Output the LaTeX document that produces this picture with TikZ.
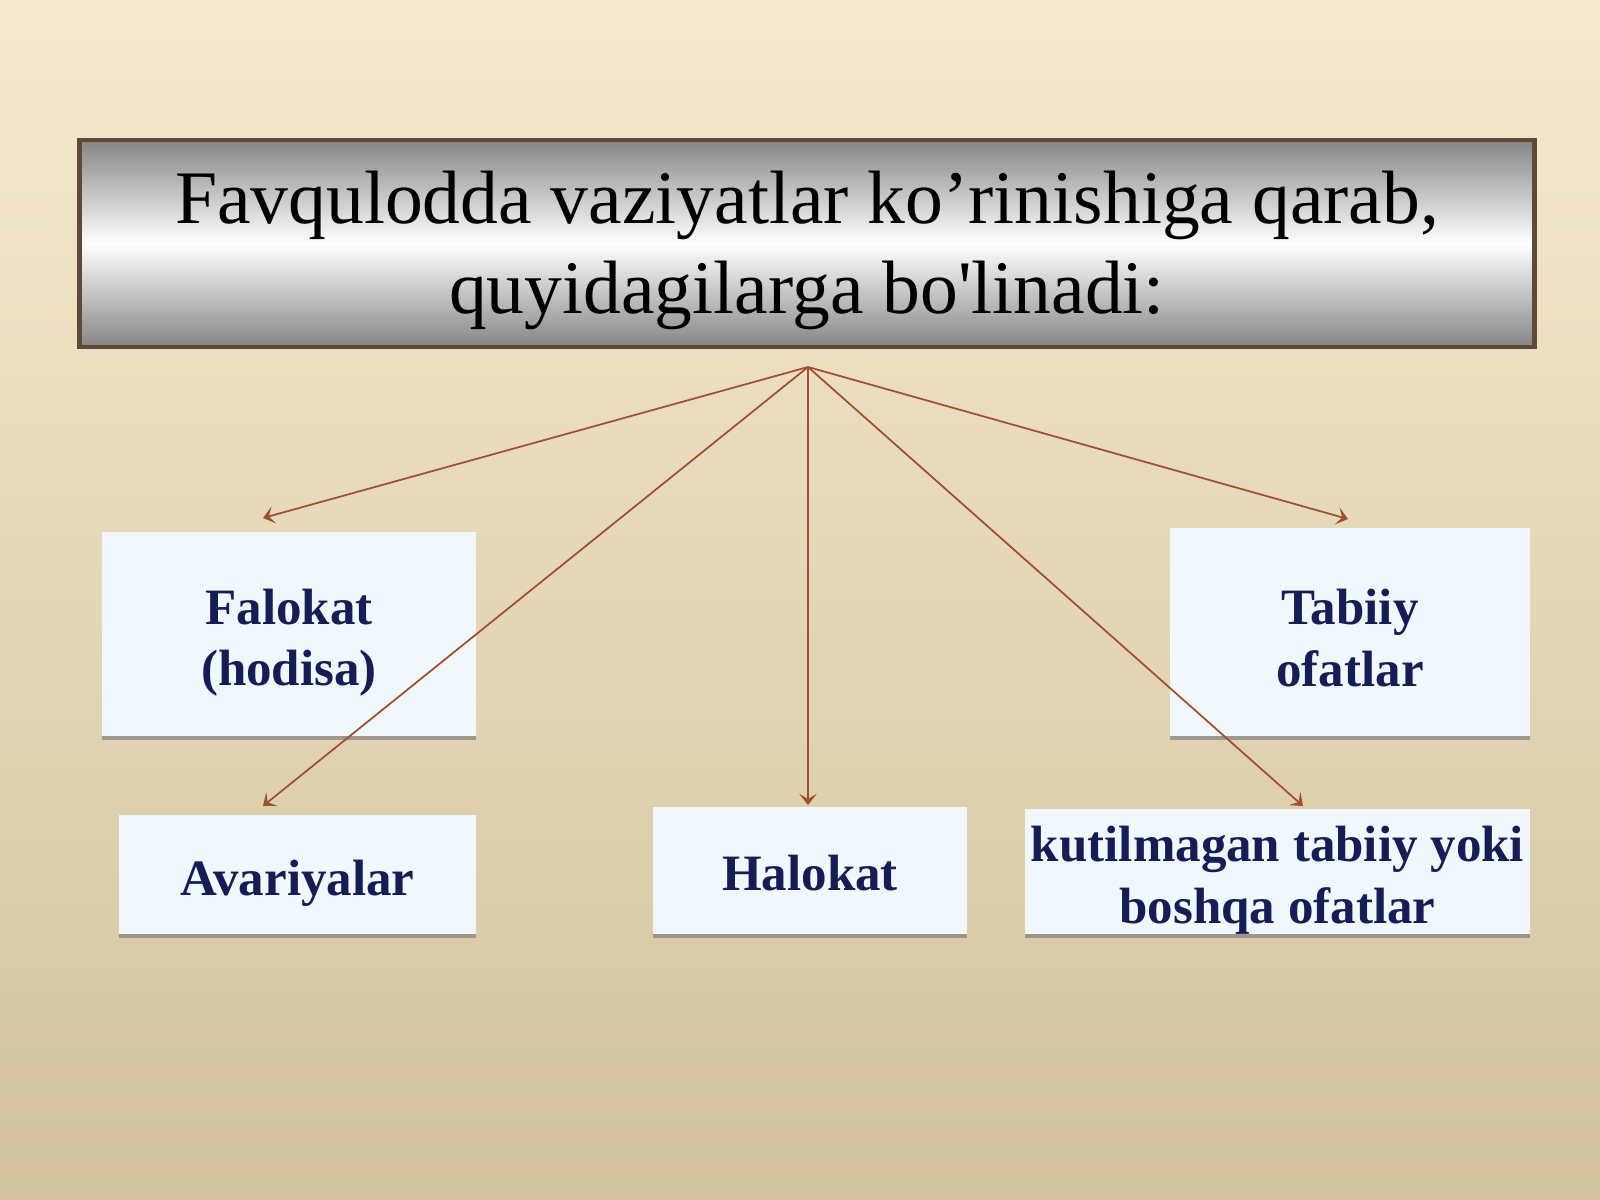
\documentclass[tikz,border=0pt]{standalone}
\usepackage{fontspec}
\setmainfont{Liberation Serif}
\usetikzlibrary{arrows.meta,shadows}

\definecolor{bgtop}{HTML}{F6EAD0}
\definecolor{bgbottom}{HTML}{D3C39F}
\definecolor{bartint}{HTML}{858585}
\definecolor{barline}{HTML}{5E4A36}
\definecolor{boxfill}{HTML}{F1F8FB}
\definecolor{boxtext}{HTML}{161D55}
\definecolor{arrowline}{HTML}{A0502C}

\newcommand\kstrut{\rule{0pt}{15pt}}

\tikzset{
  kind/.style={rectangle, fill=boxfill, inner sep=0pt, align=center,
    font=\fontsize{14.5}{17.5}\selectfont\bfseries, text=boxtext,
    drop shadow={shadow xshift=0pt, shadow yshift=-1pt, opacity=0.6, fill=black!55}},
  branch/.style={draw=arrowline, line width=0.5pt, -{Stealth[length=3.2pt, width=5pt, inset=1.5pt]}}
}

\begin{document}
\begin{tikzpicture}[x=0.01cm, y=-0.01cm]
\shade[top color=bgtop, bottom color=bgbottom] (0,0) rectangle (1600,1200);
\useasboundingbox (0,0) rectangle (1600,1200);

% title bar
\node[rectangle, draw=barline, line width=1.2pt, top color=bartint, bottom color=bartint, middle color=white,
  minimum width=14.54cm, minimum height=2.07cm, align=center,
  font=\fontsize{21.5}{25.6}\selectfont] (title) at (807,243.5)
  {\rule{0pt}{19pt}Favqulodda vaziyatlar ko’rinishiga qarab,\\quyidagilarga bo\textquotesingle linadi:};

% kinds
\node[kind, minimum width=3.74cm, minimum height=2.04cm] (falokat) at (289,634) {\kstrut Falokat\\(hodisa)};
\node[kind, minimum width=3.60cm, minimum height=2.08cm] (tabiiy) at (1350,632) {\rule{0pt}{13.5pt}Tabiiy\\ofatlar};
\node[kind, minimum width=3.57cm, minimum height=1.19cm] (avariya) at (297.5,874.5) {\kstrut Avariyalar};
\node[kind, minimum width=3.14cm, minimum height=1.27cm] (halokat) at (810,870.5) {\rule{0pt}{11.5pt}Halokat};
\node[kind, minimum width=5.05cm, minimum height=1.25cm] (kutilmagan) at (1277.5,871.5) {\kstrut kutilmagan tabiiy yoki\\boshqa ofatlar};

% arrow ends
\coordinate (hub) at (808,367);
\coordinate (tofalokat) at (263,518);
\coordinate (toavariya) at (263,806);
\coordinate (tohalokat) at (808,805);
\coordinate (tokutilmagan) at (1303,806);
\coordinate (totabiiy) at (1348,519);

\foreach \e in {tofalokat,toavariya,tohalokat,tokutilmagan,totabiiy}
  \draw[branch] (hub) -- (\e);
\end{tikzpicture}
\end{document}
